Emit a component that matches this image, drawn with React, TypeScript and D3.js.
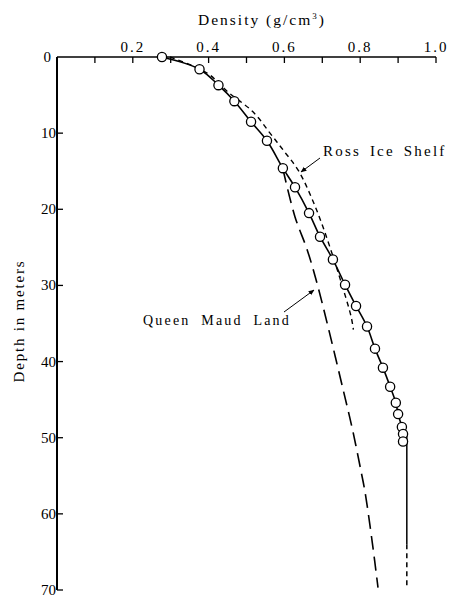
import * as d3 from "d3"

// measured station (circles), density g/cm3 vs depth m
const obsDensity = [0.277, 0.376, 0.426, 0.468, 0.512, 0.554, 0.596, 0.628, 0.665, 0.694, 0.728, 0.76, 0.789, 0.818, 0.839, 0.86, 0.879, 0.894, 0.9, 0.91, 0.913, 0.913]
const obsDepth = [0, 1.6, 3.7, 5.8, 8.5, 11.0, 14.6, 17.1, 20.5, 23.6, 26.6, 29.9, 32.7, 35.4, 38.3, 40.8, 43.3, 45.4, 46.9, 48.6, 49.5, 50.5]

// solid vertical tail, then dashed extension
const tailDensity = [0.923, 0.923]
const tailDepth = [49.5, 64]
const extDensity = [0.923, 0.923]
const extDepth = [64, 69.5]

const rossDensity = [0.298, 0.396, 0.451, 0.517, 0.562, 0.598, 0.638, 0.685, 0.725, 0.748, 0.776, 0.782]
const rossDepth = [0, 2.1, 4.6, 7.2, 10.0, 12.3, 15.0, 20.1, 25.7, 29.3, 34.1, 35.8]

const maudDensity = [0.596, 0.628, 0.66, 0.686, 0.715, 0.755, 0.78, 0.803, 0.813, 0.832, 0.847]
const maudDepth = [14.7, 21, 25.3, 29.7, 35.4, 43.7, 49, 54.6, 57.2, 63.8, 69.7]

const xTicks = [0.1, 0.2, 0.3, 0.4, 0.5, 0.6, 0.7, 0.8, 0.9, 1.0]
const xLabels = ["0.2", "0.4", "0.6", "0.8", "1.0"]
const yTicks = [10, 20, 30, 40, 50, 60, 70]

const W = 453
const H = 601

export default function App() {
  const x = d3.scaleLinear().domain([0, 1]).range([57, 436])
  const y = d3.scaleLinear().domain([0, 70]).range([57, 590])

  const toPts = (xs: number[], ys: number[]) => xs.map((v, i) => [v, ys[i]] as [number, number])
  const smooth = d3
    .line<[number, number]>()
    .x((d) => x(d[0]))
    .y((d) => y(d[1]))
    .curve(d3.curveCatmullRom)
  const straight = d3
    .line<[number, number]>()
    .x((d) => x(d[0]))
    .y((d) => y(d[1]))

  const obs = toPts(obsDensity, obsDepth)
  const font = "'Liberation Serif', 'DejaVu Serif', serif"

  return (
    <svg
      width={W}
      height={H}
      style={{ position: "absolute", left: 0, top: 0, background: "#fff" }}
      fontFamily={font}
    >
      <defs>
        <marker id="arr" viewBox="0 0 10 10" refX="9" refY="5" markerWidth="6" markerHeight="6" orient="auto">
          <path d="M0,1 L10,5 L0,9 z" fill="#000" />
        </marker>
      </defs>

      {/* title */}
      <text x={198} y={25} fontSize={15.5} letterSpacing={2}>
        Density (g/cm<tspan fontSize={9} dy={-6}>3</tspan>
        <tspan dy={6}>)</tspan>
      </text>

      {/* top axis */}
      <line x1={x(0)} x2={x(1)} y1={y(0)} y2={y(0)} stroke="#000" strokeWidth={1.6} />
      {xTicks.map((t) => (
        <line key={t} x1={x(t)} x2={x(t)} y1={y(0)} y2={y(0) + 6} stroke="#000" strokeWidth={1.3} />
      ))}
      {xLabels.map((l) => (
        <text key={l} x={x(+l)} y={52} textAnchor="middle" fontSize={15} letterSpacing={2}>
          {l}
        </text>
      ))}
      <text x={51} y={y(0) + 5} textAnchor="end" fontSize={15}>
        0
      </text>

      {/* left axis */}
      <line x1={x(0)} x2={x(0)} y1={y(0)} y2={y(70)} stroke="#000" strokeWidth={2} />
      {yTicks.map((t) => (
        <g key={t}>
          <line x1={x(0)} x2={x(0) + 6} y1={y(t)} y2={y(t)} stroke="#000" strokeWidth={1.3} />
          <text x={x(0) - 1} y={y(t) + 5} textAnchor="end" fontSize={15}>
            {t}
          </text>
        </g>
      ))}
      <text
        transform={`translate(24,${321}) rotate(-90)`}
        textAnchor="middle"
        fontSize={15}
        letterSpacing={1.8}
      >
        Depth in meters
      </text>

      {/* curves */}
      <path d={smooth(toPts(rossDensity, rossDepth)) ?? ""} fill="none" stroke="#000" strokeWidth={1.4} strokeDasharray="5,4" />
      <path d={smooth(toPts(maudDensity, maudDepth)) ?? ""} fill="none" stroke="#000" strokeWidth={1.6} strokeDasharray="14,7" />
      <path d={smooth(obs) ?? ""} fill="none" stroke="#000" strokeWidth={1.6} />
      <path d={straight(toPts(tailDensity, tailDepth)) ?? ""} fill="none" stroke="#000" strokeWidth={1.5} />
      <path d={straight(toPts(extDensity, extDepth)) ?? ""} fill="none" stroke="#000" strokeWidth={1.5} strokeDasharray="5,4" />
      {obs.map((d, i) => (
        <circle key={i} cx={x(d[0])} cy={y(d[1])} r={4.6} fill="#fff" stroke="#000" strokeWidth={1.3} />
      ))}

      {/* labels */}
      <text x={323} y={156} fontSize={15} letterSpacing={2.2} wordSpacing={3}>
        Ross Ice Shelf
      </text>
      <line x1={320} y1={158} x2={301} y2={172} stroke="#000" strokeWidth={1} markerEnd="url(#arr)" />
      <text x={143} y={325} fontSize={14} letterSpacing={2.2} wordSpacing={5}>
        Queen Maud Land
      </text>
      <line x1={284} y1={312} x2={314} y2={290} stroke="#000" strokeWidth={1} markerEnd="url(#arr)" />
    </svg>
  )
}
